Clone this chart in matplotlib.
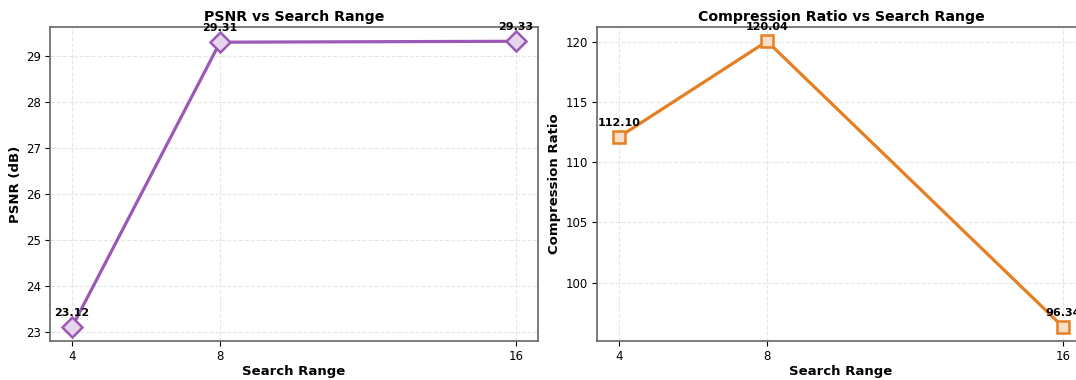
import matplotlib
matplotlib.use("Agg")
import matplotlib.pyplot as plt
import matplotlib.colors as mcolors

search_range = [4, 8, 16]
psnr = [23.12, 29.31, 29.33]
comp_ratio = [112.10, 120.04, 96.34]
tick_labels = ["4", "8", "16"]

fig = plt.figure(figsize=(10.76, 3.8), dpi=100)
ax1 = fig.add_axes([50/1076, 1-341/380, 488/1076, 314/380])
ax2 = fig.add_axes([597/1076, 1-341/380, 488/1076, 314/380])

def light(color, a=0.25):
    r, g, b = mcolors.to_rgb(color)
    return (1 - a + a * r, 1 - a + a * g, 1 - a + a * b)

def style(ax, y, color, marker, ms, title, ylabel, fmt="{:.2f}"):
    ax.plot(search_range, y, color=color, lw=2.3, marker=marker, ms=ms,
            mfc=light(color), mec=color, mew=1.8, zorder=3)
    for xv, yv in zip(search_range, y):
        ax.annotate(fmt.format(yv), (xv, yv), xytext=(0, 6.5), textcoords="offset points",
                    ha="center", va="bottom", fontsize=8, fontweight="bold", annotation_clip=False)
    ax.set_title(title, fontsize=10.2, fontweight="bold", pad=4)
    ax.set_xlabel("Search Range", fontsize=9.5, fontweight="bold", labelpad=1.5)
    ax.set_ylabel(ylabel, fontsize=9.5, fontweight="bold", labelpad=3)
    ax.set_xticks(search_range)
    ax.set_xticklabels(tick_labels)
    ax.tick_params(labelsize=8.5, pad=3)
    ax.grid(True, linestyle="--", alpha=0.3)
    for s in ax.spines.values():
        s.set_color("#666666")
        s.set_linewidth(1.2)

style(ax1, psnr, "#9b59b6", "D", 10, "PSNR vs Search Range", "PSNR (dB)")
style(ax2, comp_ratio, "#e67e22", "s", 8, "Compression Ratio vs Search Range", "Compression Ratio")

fig.savefig("out.png", dpi=100)
